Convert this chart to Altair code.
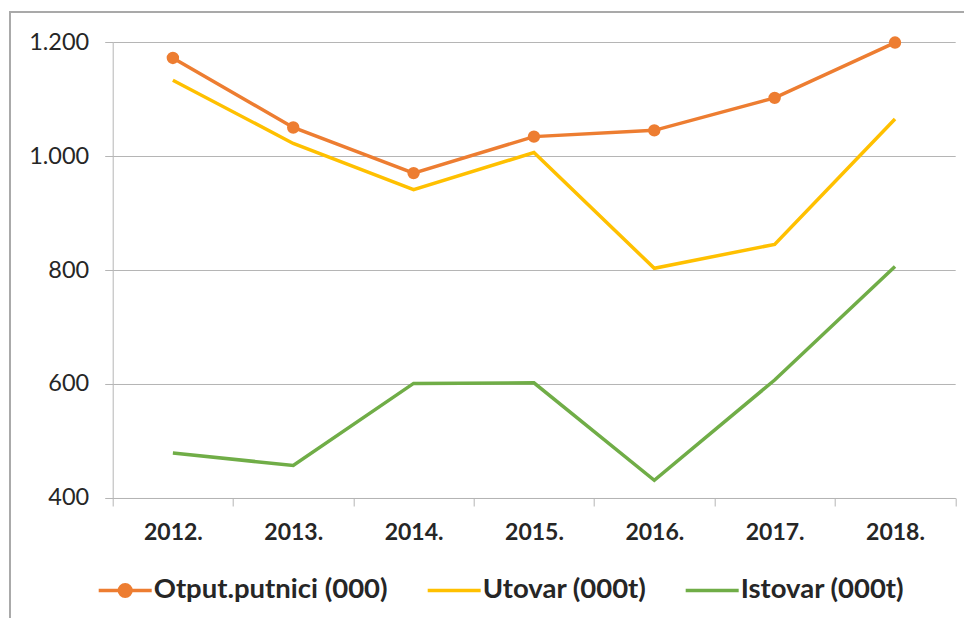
import altair as alt
import pandas as pd

years = ["2012.", "2013.", "2014.", "2015.", "2016.", "2017.", "2018."]
otput = [1172, 1050, 970, 1034, 1045, 1102, 1199]
utovar = [1133, 1022, 941, 1006, 803, 845, 1065]
istovar = [479, 457, 601, 602, 431, 607, 806]

series = ["Otput.putnici (000)", "Utovar (000t)", "Istovar (000t)"]
colors = ["#ED7D31", "#FFC000", "#70AD47"]

rows = []
for name, vals in zip(series, [otput, utovar, istovar]):
    for y, v in zip(years, vals):
        rows.append({"year": y, "value": v, "series": name})
df = pd.DataFrame(rows)

W, H = 842.5, 456
FONT = "Lato"
TXT = "#262626"
GRID = "#b5b5b5"


def ring(r):
    return f"M{r},0A{r},{r} 0 1,1 {-r},0A{r},{r} 0 1,1 {r},0"

line_path = "M-1,0H1"
dot_path = line_path + ring(0.22) + ring(0.12) + ring(0.04)
sym_expr = f"datum.value == '{series[0]}' ? '{dot_path}' : '{line_path}'"

x_enc = alt.X("year:N", sort=years, title=None,
              scale=alt.Scale(paddingInner=0, paddingOuter=0),
              axis=alt.Axis(tickBand="extent", labelAngle=0, labelFont=FONT,
                            labelFontSize=23, labelFontWeight="bold", labelColor=TXT,
                            labelPadding=16, domainColor=GRID, tickColor=GRID,
                            tickSize=8, grid=False))
y_enc = alt.Y("value:Q", title=None,
              scale=alt.Scale(domain=[400, 1200], nice=False),
              axis=alt.Axis(values=[400, 600, 800, 1000, 1200],
                            labelExpr="replace(format(datum.value, ','), ',', '.')",
                            labelFont=FONT, labelFontSize=23.5, labelColor=TXT,
                            labelPadding=16, domainColor=GRID, tickColor=GRID,
                            tickSize=8, gridColor=GRID))

color_scale = alt.Scale(domain=series, range=colors)

lines = alt.Chart(df).mark_line(strokeWidth=3.5).encode(
    x=x_enc, y=y_enc,
    color=alt.Color("series:N", scale=color_scale, sort=series,
                    legend=alt.Legend(orient="none", legendX=-16, legendY=520,
                                      direction="horizontal", title=None,
                                      labelFont=FONT, labelFontSize=27.5,
                                      labelFontWeight="bold", labelColor=TXT,
                                      symbolType=alt.ExprRef(sym_expr),
                                      symbolSize=2809, symbolStrokeWidth=3.5,
                                      columnPadding=32, labelOffset=0,
                                      labelLimit=0)),
)

points = alt.Chart(df).transform_filter(
    alt.datum.series == series[0]
).mark_point(filled=True, size=154, opacity=1).encode(
    x=alt.X("year:N", sort=years),
    y="value:Q",
    color=alt.Color("series:N", scale=color_scale, legend=None),
)

frame_top = alt.Chart(df).mark_rule(color="#a9a9a9", strokeWidth=1).encode(
    x=alt.value(-103), x2=alt.value(880), y=alt.value(-30))
frame_left = alt.Chart(df).mark_rule(color="#a9a9a9", strokeWidth=1).encode(
    x=alt.value(-103), y=alt.value(-30), y2=alt.value(620))

chart = alt.layer(frame_top, frame_left, lines, points).properties(
    width=W, height=H,
    autosize=alt.AutoSizeParams(type="none"),
    padding={"left": 104.7, "top": 34, "right": 9, "bottom": 120},
    background="white",
).configure_view(stroke=None)

chart.save("out.html", embed_options={"renderer": "svg", "actions": False})
